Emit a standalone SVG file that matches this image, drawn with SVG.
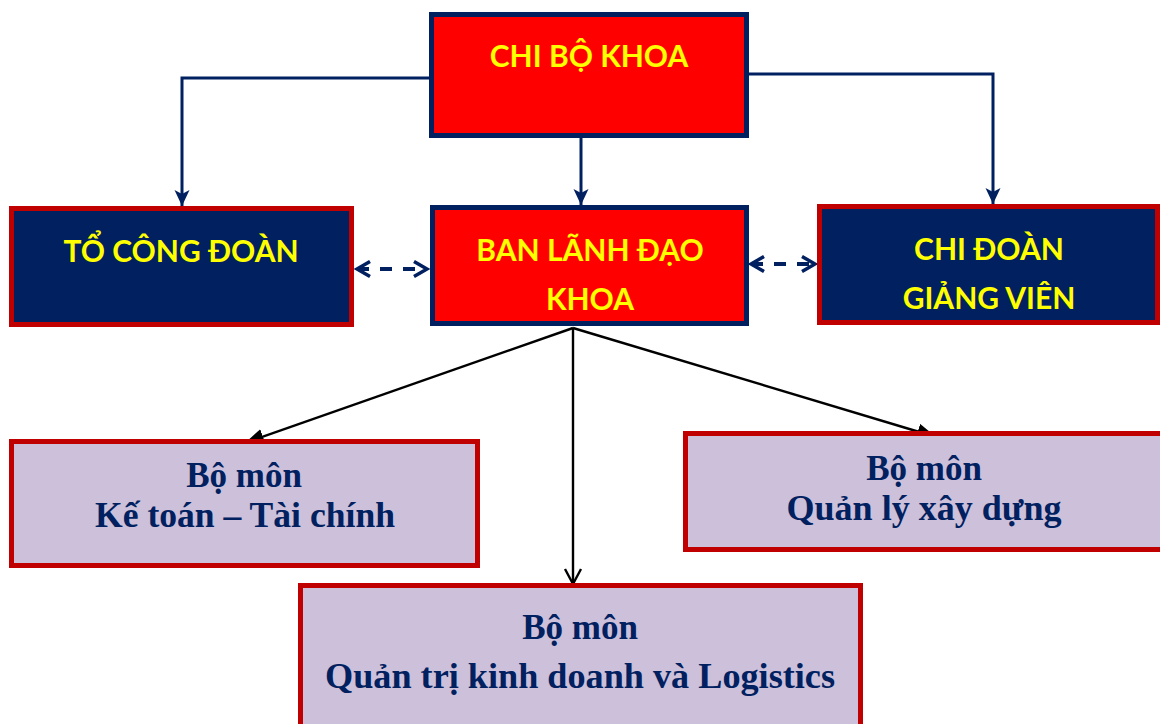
<svg xmlns="http://www.w3.org/2000/svg" width="1160" height="724" viewBox="0 0 1160 724">
<style>
.lead{fill:#FF0000;stroke:#002060;stroke-width:5}
.org{fill:#002060;stroke:#C00000;stroke-width:5}
.dept{fill:#CCC0DA;stroke:#C00000;stroke-width:5}
.ts{font-family:Lato,"Liberation Sans",sans-serif;font-weight:bold;font-size:30px;fill:#FFFF00;text-anchor:middle}
.tr{font-family:"Liberation Serif",serif;font-weight:bold;font-size:35px;fill:#002060;text-anchor:middle}
.nv{fill:none;stroke:#002060;stroke-width:3}
.dash{fill:none;stroke:#002060;stroke-width:4;stroke-dasharray:12 11}
.bk{fill:none;stroke:#000;stroke-width:2.4}
</style>
<defs>
<marker id="stealth" viewBox="0 0 18 18" markerWidth="18" markerHeight="18" markerUnits="userSpaceOnUse" refX="17" refY="9" orient="auto">
<path d="M1,1.5 L17,9 L1,16.5 L5,9 z" fill="#002060"/>
</marker>
<marker id="chev" viewBox="0 0 18 18" markerWidth="18" markerHeight="18" markerUnits="userSpaceOnUse" refX="15" refY="9" orient="auto-start-reverse">
<path d="M2,1.5 L15,9 L2,16.5" fill="none" stroke="#002060" stroke-width="3.5"/>
</marker>
<marker id="tri" viewBox="0 0 20 16" markerWidth="20" markerHeight="16" markerUnits="userSpaceOnUse" refX="19" refY="8" orient="auto">
<path d="M0,0 L19,8 L0,16 z" fill="#000"/>
</marker>
<marker id="vee" viewBox="0 0 20 20" markerWidth="20" markerHeight="20" markerUnits="userSpaceOnUse" refX="16" refY="10" orient="auto">
<path d="M1,2 L16,10 L1,18" fill="none" stroke="#000" stroke-width="2.4"/>
</marker>
</defs>

<g id="connectors">
<polyline class="nv" points="429,78 182,78 182,206" marker-end="url(#stealth)"/>
<polyline class="nv" points="749,74 993,74 993,204" marker-end="url(#stealth)"/>
<line class="nv" x1="581" y1="138" x2="581" y2="205" marker-end="url(#stealth)"/>
<line class="dash" x1="357" y1="269" x2="427" y2="269" marker-start="url(#chev)" marker-end="url(#chev)"/>
<line class="dash" x1="751" y1="264" x2="815" y2="264" marker-start="url(#chev)" marker-end="url(#chev)"/>
<line class="bk" x1="573" y1="328" x2="245" y2="443" marker-end="url(#tri)"/>
<line class="bk" x1="573" y1="328" x2="936" y2="437" marker-end="url(#tri)"/>
<line class="bk" x1="573" y1="328" x2="573" y2="584" marker-end="url(#vee)"/>
</g>

<g id="chi-bo-khoa">
<rect class="lead" x="431.5" y="14.5" width="315" height="121"/>
<text class="ts" x="589" y="67">CHI BỘ KHOA</text>
</g>

<g id="to-cong-doan">
<rect class="org" x="11.5" y="208.5" width="340" height="116"/>
<text class="ts" x="181" y="262">TỔ CÔNG ĐOÀN</text>
</g>

<g id="ban-lanh-dao-khoa">
<rect class="lead" x="432.5" y="207.5" width="314" height="116"/>
<text class="ts" x="590" y="261">BAN LÃNH ĐẠO</text>
<text class="ts" x="590" y="310">KHOA</text>
</g>

<g id="chi-doan-giang-vien">
<rect class="org" x="819.5" y="206.5" width="338" height="116"/>
<text class="ts" x="989" y="260">CHI ĐOÀN</text>
<text class="ts" x="989" y="309">GIẢNG VIÊN</text>
</g>

<g id="bm-ke-toan">
<rect class="dept" x="11.5" y="441.5" width="466" height="124"/>
<text class="tr" x="244" y="487">Bộ môn</text>
<text class="tr" x="245" y="527" textLength="300" lengthAdjust="spacingAndGlyphs">Kế toán – Tài chính</text>
</g>

<g id="bm-quan-ly-xay-dung">
<rect class="dept" x="685.5" y="433.5" width="480" height="116"/>
<text class="tr" x="924" y="480">Bộ môn</text>
<text class="tr" x="924" y="520" textLength="275" lengthAdjust="spacingAndGlyphs">Quản lý xây dựng</text>
</g>

<g id="bm-qtkd-logistics">
<rect class="dept" x="300.5" y="585.5" width="560" height="150"/>
<text class="tr" x="580" y="639">Bộ môn</text>
<text class="tr" x="580" y="688" textLength="510" lengthAdjust="spacingAndGlyphs">Quản trị kinh doanh và Logistics</text>
</g>
</svg>
